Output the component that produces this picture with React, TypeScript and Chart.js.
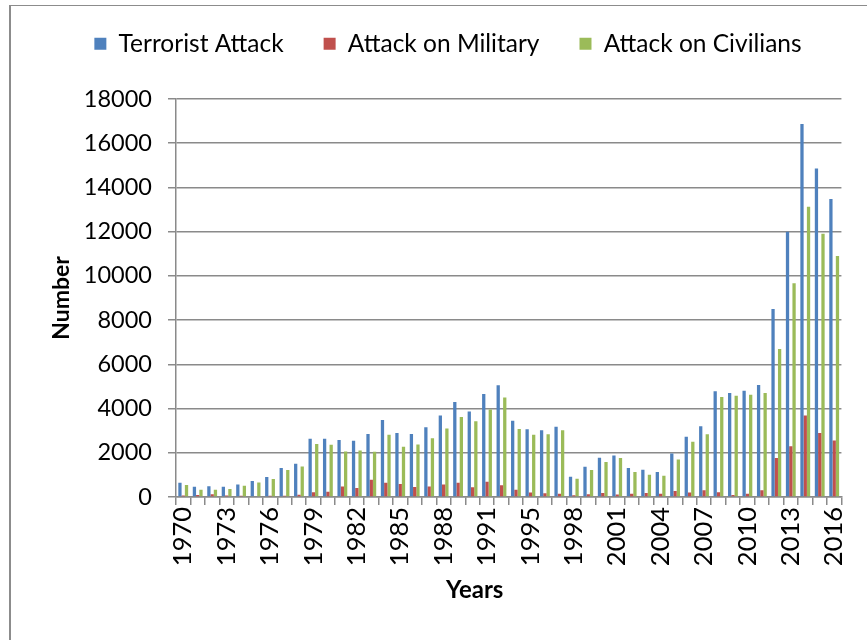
import React, { useEffect, useRef } from "react";
import { Chart, registerables } from "chart.js";

Chart.register(...registerables);

const years: string[] = [
  "1970", "1971", "1972", "1973", "1974", "1975", "1976", "1977", "1978", "1979",
  "1980", "1981", "1982", "1983", "1984", "1985", "1986", "1987", "1988", "1989",
  "1990", "1991", "1992", "1994", "1995", "1996", "1997", "1998", "1999", "2000",
  "2001", "2002", "2003", "2004", "2005", "2006", "2007", "2008", "2009", "2010",
  "2011", "2012", "2013", "2014", "2015", "2016",
];

const terroristAttack: number[] = [
  640, 460, 490, 460, 560, 720, 900, 1310, 1500, 2640,
  2640, 2580, 2540, 2850, 3480, 2900, 2850, 3160, 3690, 4300,
  3870, 4660, 5050, 3450, 3060, 3020, 3180, 920, 1370, 1780,
  1880, 1310, 1230, 1130, 1970, 2720, 3200, 4780, 4700, 4800,
  5060, 8500, 12000, 16870, 14860, 13480,
];

const attackOnMilitary: number[] = [
  70, 90, 130, 70, 60, 30, 60, 60, 100, 210,
  240, 480, 410, 780, 650, 590, 450, 470, 560, 650,
  440, 690, 530, 330, 200, 170, 150, 80, 120, 180,
  110, 150, 180, 150, 270, 200, 310, 210, 90, 150,
  300, 1760, 2290, 3690, 2890, 2550,
];

const attackOnCivilians: number[] = [
  540, 330, 330, 360, 510, 660, 810, 1220, 1380, 2400,
  2360, 2060, 2100, 2050, 2810, 2270, 2380, 2660, 3100, 3620,
  3430, 3960, 4500, 3070, 2810, 2840, 3020, 830, 1220, 1580,
  1760, 1130, 1010, 960, 1700, 2500, 2840, 4520, 4580, 4620,
  4700, 6690, 9670, 13130, 11910, 10900,
];

const seriesNames: string[] = ["Terrorist Attack", "Attack on Military", "Attack on Civilians"];
const seriesColors: string[] = ["#4F81BD", "#C0504D", "#9BBB59"];

const yMin = 0;
const yMax = 18000;
const yStep = 2000;
const xLabelEvery = 3;
const xTitle = "Years";
const yTitle = "Number";

const FONT = "Lato, 'Liberation Sans', sans-serif";
const GRID = "#8a8a8a";

const legendSpacer = {
  id: "legendSpacer",
  beforeInit(chart: any) {
    const legend = chart.legend;
    if (!legend) return;
    const origFit = legend.fit;
    legend.fit = function () {
      origFit.call(this);
      this.height = 107.5;
    };
  },
};

// Draws the x-axis title slightly left of the plot centre, as in the original.
const xAxisTitle = {
  id: "xAxisTitle",
  afterDraw(chart: any) {
    const { ctx, chartArea } = chart;
    ctx.save();
    ctx.font = `bold 24px ${FONT}`;
    ctx.fillStyle = "#000";
    ctx.textAlign = "center";
    ctx.textBaseline = "middle";
    ctx.fillText(xTitle, (chartArea.left + chartArea.right) / 2 - 34, chartArea.bottom + 93);
    ctx.restore();
  },
};

export default function App() {
  const canvasRef = useRef<HTMLCanvasElement | null>(null);

  useEffect(() => {
    const canvas = canvasRef.current;
    if (!canvas) return;
    const chart = new Chart(canvas, {
      type: "bar",
      data: {
        labels: years,
        datasets: [terroristAttack, attackOnMilitary, attackOnCivilians].map((d, i) => ({
          label: seriesNames[i],
          data: d,
          backgroundColor: seriesColors[i],
          borderWidth: 0,
          barPercentage: 1,
          categoryPercentage: 0.68,
        })),
      },
      options: {
        responsive: false,
        animation: false,
        layout: { padding: { top: -8.5, left: 48, right: 19, bottom: 0 } },
        plugins: {
          tooltip: { enabled: false },
          legend: {
            position: "top",
            labels: {
              boxWidth: 12,
              boxHeight: 12,
              padding: 40,
              color: "#000",
              font: { family: FONT, size: 24.5 },
            },
          },
        },
        scales: {
          x: {
            afterFit(scale: any) {
              scale.height = 143;
            },
            grid: {
              display: true,
              drawOnChartArea: false,
              drawTicks: true,
              tickLength: 8,
              color: GRID,
              lineWidth: 1.5,
              offset: true,
            },
            border: { display: true, color: GRID, width: 1.5 },
            ticks: {
              autoSkip: false,
              minRotation: 90,
              maxRotation: 90,
              padding: 2,
              color: "#000",
              font: { family: FONT, size: 25.5 },
              callback(_v: any, index: number) {
                return index % xLabelEvery === 0 ? years[index] : "";
              },
            },
            title: { display: false, text: xTitle },
          },
          y: {
            min: yMin,
            max: yMax,
            afterFit(scale: any) {
              scale.width = 128;
            },
            grid: {
              display: true,
              drawTicks: true,
              tickLength: 8,
              color: GRID,
              lineWidth: 1.5,
            },
            border: { display: true, color: GRID, width: 1.5 },
            ticks: {
              stepSize: yStep,
              padding: 16,
              color: "#000",
              font: { family: FONT, size: 23.5 },
              callback(v: any) {
                return String(v);
              },
            },
            title: {
              display: true,
              text: yTitle,
              color: "#000",
              font: { family: FONT, size: 23, weight: "bold" },
              padding: { top: 0, bottom: 0 },
            },
          },
        },
      },
      plugins: [legendSpacer, xAxisTitle],
    });
    return () => chart.destroy();
  }, []);

  return (
    <div
      style={{
        position: "fixed",
        left: 0,
        top: 0,
        width: 867,
        height: 640,
        background: "#fff",
        overflow: "hidden",
      }}
    >
      <div
        style={{
          position: "absolute",
          left: 9,
          top: 5,
          width: 900,
          height: 700,
          borderTop: "1px solid #8c8c8c",
          borderLeft: "2px solid #8c8c8c",
        }}
      />
      <canvas
        ref={canvasRef}
        width={867}
        height={640}
        style={{ position: "absolute", left: 0, top: 0, width: 867, height: 640 }}
      />
    </div>
  );
}
